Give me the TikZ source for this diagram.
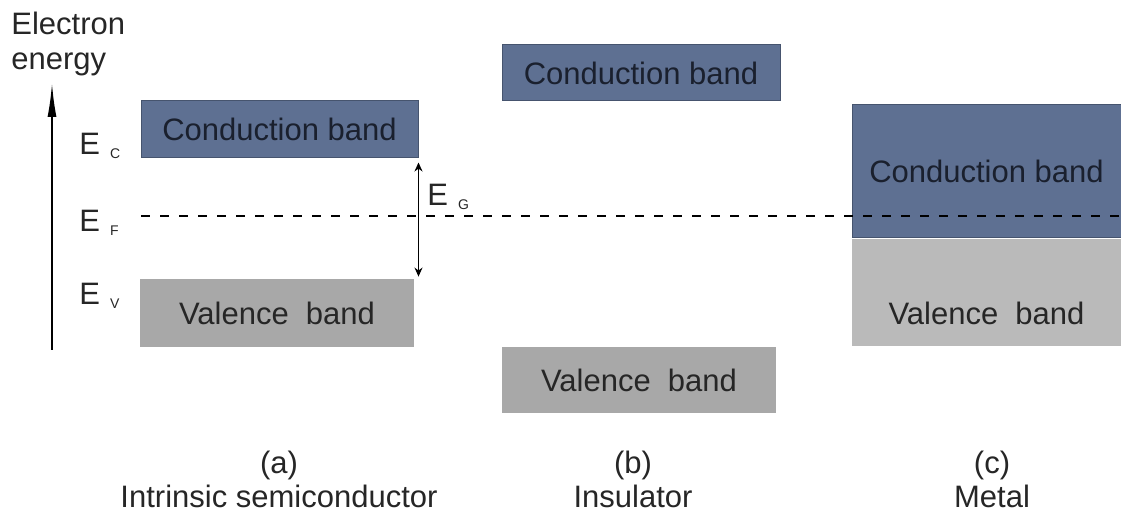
\documentclass[tikz,border=0pt]{standalone}
\usepackage{fontspec}
\setmainfont{Liberation Sans}
\usetikzlibrary{arrows.meta, positioning}
\usepackage{xcolor}
\definecolor{BandBlue}{RGB}{94,112,146}
\definecolor{BandEdge}{RGB}{70,84,110}
\definecolor{BandGray}{RGB}{168,168,168}
\definecolor{MetalGray}{RGB}{186,186,186}
\definecolor{BandText}{RGB}{26,32,46}

\newcommand\elevel[1]{E\hspace{5pt}\raisebox{-2pt}{\fontsize{7}{8}\selectfont #1}}

\begin{document}
\begin{tikzpicture}[
  x=0.5pt, y=-0.5pt,
  font=\fontsize{15.5}{17}\selectfont,
  every node/.style={align=center, inner sep=0pt},
  band/.style args={#1, #2}{minimum width=#1, minimum height=#2},
  cband/.style={fill=BandBlue, draw=BandEdge, line width=0.5pt, text=BandText},
  vband/.style={fill=#1, text=black!85},
  lvl/.style={anchor=base west, text=black!85},
  caption/.style={text=black!85},
  fermi/.style={line width=0.8pt, dash pattern=on 4.5pt off 5pt},
  gaparrow/.style={line width=0.9pt, {Stealth[length=4.5pt,width=4pt]}-{Stealth[length=4.5pt,width=4pt]}}
  ]
\useasboundingbox (0,0) rectangle (1121,522);

% Energy axis
\node[anchor=north west, align=left, text=black!85, font=\fontsize{15.5}{17.5}\selectfont] (axislabel) at (11,12) {Electron\\energy};
\coordinate (axisfoot) at (52,350);
\coordinate (axistip) at (52,83);
\draw[line width=1pt, -{Latex[length=17pt,width=4.5pt]}] (axisfoot) -- (axistip);

% (a) Intrinsic semiconductor
\node[cband, band={138.5pt, 28.5pt}] (cbA) at (279.5,129.5) {Conduction band};
\node[vband=BandGray, band={137pt, 34pt}] (vbA) at (277,313) {Valence\ \ band};
\node[lvl] (eC) at (79,155) {\elevel{C}};
\node[lvl] (eF) at (79,232) {\elevel{F}};
\node[lvl] (eV) at (79,305) {\elevel{V}};
\draw[gaparrow] ([yshift=-2pt]cbA.south east) -- ([yshift=1pt]cbA.south east |- vbA.north);
\node[lvl] (eG) at (427,206) {\elevel{G}};

% (b) Insulator
\node[cband, band={139pt, 28pt}] (cbB) at (641,73) {Conduction band};
\node[vband=BandGray, band={137pt, 33pt}] (vbB) at (639,380) {Valence\ \ band};

% (c) Metal
\node[cband, band={134.5pt, 66.5pt}] (cbC) at (986.5,171.5) {Conduction band};
\node[vband=MetalGray, band={134.5pt, 53.5pt}, below=0pt of cbC] (vbC) {};
\node[text=black!85] (vbCtext) at ([yshift=-10.5pt]vbC.center) {Valence\ \ band};

% Fermi level
\coordinate (fermiL) at (141,216);
\coordinate (fermiR) at (1121,216);
\draw[fermi] (fermiL) -- (fermiR);

% Captions
\node[caption] (capA) at (279,479) {(a)\\Intrinsic semiconductor};
\node[caption] (capB) at (633,479) {(b)\\Insulator};
\node[caption] (capC) at (992,479) {(c)\\Metal};
\end{tikzpicture}
\end{document}
